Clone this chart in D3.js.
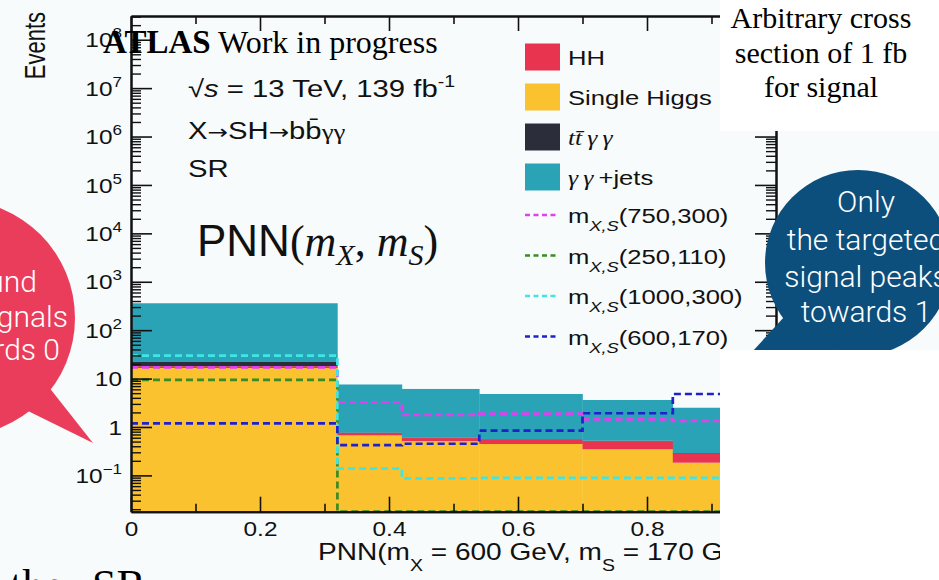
<!DOCTYPE html>
<html>
<head>
<meta charset="utf-8">
<script src="https://cdn.jsdelivr.net/npm/d3@7/dist/d3.min.js"></script>
<style>
  html, body { margin: 0; padding: 0; background: #f7fbfc; }
  svg { display: block; }
</style>
</head>
<body>
<svg id="chart" width="939" height="580"></svg>
<script>
// PNN score distribution in the X -> SH -> bb̄γγ signal region
const binEdges = [0, 0.32, 0.42, 0.54, 0.70, 0.84, 1.0];

// stacked backgrounds, listed bottom to top
const singleHiggs = [16.5, 0.67, 0.51, 0.445, 0.346, 0.183];
const hhYields    = [1.5, 0.08, 0.08, 0.11, 0.165, 0.095];
const ttyyYields  = [4.6, 0.02, 0.015, 0.01, 0.01, 0.01];
const yyJets      = [337, 6.78, 5.5, 4.24, 3.09, 2.21];

// signal hypotheses, normalised to 1 fb
const sig750_300  = [17.1, 3.24, 1.77, 1.88, 1.44, 1.33];
const sig250_110  = [9.36, 0, 0, 0, 0, 0];
const sig1000_300 = [29.7, 0.138, 0.087, 0.089, 0.089, 0.089];
const sig600_170  = [1.19, 0.42, 0.45, 0.84, 1.92, 4.8];

const xTickValues  = [0, 0.2, 0.4, 0.6, 0.8, 1];
const xMinorValues = [0.1, 0.3, 0.5, 0.7, 0.9];
const yDecades     = [-1, 0, 1, 2, 3, 4, 5, 6, 7, 8];
const yLimits      = [Math.pow(10, -1.75), Math.pow(10, 8.49)];

const SANS  = '"Liberation Sans", Arial, Helvetica, sans-serif';
const SERIF = '"Liberation Serif", "Times New Roman", Times, serif';
const LIGHT = 'Roboto, "Liberation Sans", Arial, sans-serif';
const WIDE = 1.22;   // the embedded plot is stretched horizontally on the slide

const svg = d3.select("#chart");
const frame = { left: 131, right: 776, top: 16, bottom: 511.7 };

const x = d3.scaleLinear().domain([0, 1]).range([frame.left, frame.right]);
const y = d3.scaleLog().domain(yLimits).range([frame.bottom, frame.top]);
const yv = v => y(Math.max(v, yLimits[0]));

// text group anchored at (tx, ty) with the plot's horizontal stretch
function plotText(parent, tx, ty, extra, stretch) {
  return parent.append("g")
    .attr("transform", `translate(${tx},${ty}) scale(${stretch || WIDE},1)${extra || ""}`)
    .append("text");
}

svg.append("defs").append("clipPath").attr("id", "plotClip")
  .append("rect")
  .attr("x", frame.left).attr("y", frame.top)
  .attr("width", frame.right - frame.left).attr("height", frame.bottom - frame.top);

// ---- stacked backgrounds ----
const layers = [
  { key: "single", values: singleHiggs, color: "#f9c22e" },
  { key: "hh",     values: hhYields,    color: "#e8344f" },
  { key: "ttyy",   values: ttyyYields,  color: "#2b2e3a" },
  { key: "yyjets", values: yyJets,      color: "#2ba3b6" }
];
const stackRows = [];
binEdges.slice(0, -1).forEach((lo, i) => {
  let base = 0;
  layers.forEach(l => {
    stackRows.push({ lo, hi: binEdges[i + 1], y0: base, y1: base + l.values[i], color: l.color });
    base += l.values[i];
  });
});
const plot = svg.append("g").attr("clip-path", "url(#plotClip)");
plot.selectAll("rect.stack").data(stackRows).join("rect")
  .attr("class", "stack")
  .attr("x", d => x(d.lo))
  .attr("width", d => x(d.hi) - x(d.lo) + 0.3)
  .attr("y", d => yv(d.y1))
  .attr("height", d => Math.max(0, yv(d.y0) - yv(d.y1)))
  .attr("fill", d => d.color);

// ---- signal histograms ----
const signals = [
  { values: sig750_300,  color: "#e040f0", label: "(750,300)" },
  { values: sig250_110,  color: "#3a8c22", label: "(250,110)" },
  { values: sig1000_300, color: "#3fe6e6", label: "(1000,300)" },
  { values: sig600_170,  color: "#2020cc", label: "(600,170)" }
];
const stepLine = d3.line().x(d => x(d.e)).y(d => yv(d.v)).curve(d3.curveStepAfter);
signals.forEach(s => {
  const pts = binEdges.map((e, i) => ({ e, v: s.values[Math.min(i, s.values.length - 1)] }));
  plot.append("path")
    .attr("d", stepLine(pts))
    .attr("fill", "none")
    .attr("stroke", s.color)
    .attr("stroke-width", 2.7)
    .attr("stroke-dasharray", "7,4");
});

// ---- axes ----
function styleAxis(g, width) {
  g.selectAll(".domain").attr("stroke", "#111").attr("stroke-width", 2);
  g.selectAll(".tick line").attr("stroke", "#111").attr("stroke-width", width);
}
const yMinor = [];
for (let e = -2; e <= 8; e++) for (let k = 2; k <= 9; k++) {
  const v = k * Math.pow(10, e);
  if (v > yLimits[0] && v < yLimits[1]) yMinor.push(v);
}
const yMajor = yDecades.map(e => Math.pow(10, e));

// left
svg.append("g").attr("transform", `translate(${frame.left},0)`)
  .call(d3.axisLeft(y).tickValues(yMinor).tickSize(-10).tickSizeOuter(0).tickFormat(""))
  .call(g => styleAxis(g, 1.4));
const yPad = 9;
const yAxisG = svg.append("g").attr("transform", `translate(${frame.left},0)`)
  .call(d3.axisLeft(y).tickValues(yMajor).tickSize(-21).tickSizeOuter(0).tickPadding(yPad).tickFormat(""))
  .call(g => styleAxis(g, 1.6));
yAxisG.selectAll(".tick text").each(function (d) {
  const e = Math.round(Math.log10(d));
  const t = d3.select(this)
    .attr("font-family", SANS).attr("font-size", 20).attr("fill", "#111")
    .attr("dy", "0.36em")
    .attr("transform", `translate(${-yPad * (1 - WIDE)},0) scale(${WIDE},1)`);
  if (e === 0) t.text("1");
  else if (e === 1) t.text("10");
  else {
    t.text("10");
    t.append("tspan").attr("dy", -9).attr("font-size", 14).text(e < 0 ? "\u2212" + (-e) : e);
  }
});

// right
svg.append("g").attr("transform", `translate(${frame.right},0)`)
  .call(d3.axisRight(y).tickValues(yMinor).tickSize(-10).tickSizeOuter(0).tickFormat(""))
  .call(g => styleAxis(g, 1.4));
svg.append("g").attr("transform", `translate(${frame.right},0)`)
  .call(d3.axisRight(y).tickValues(yMajor).tickSize(-21).tickSizeOuter(0).tickFormat(""))
  .call(g => styleAxis(g, 1.6));

// bottom
svg.append("g").attr("transform", `translate(0,${frame.bottom})`)
  .call(d3.axisBottom(x).tickValues(xMinorValues).tickSize(-8).tickSizeOuter(0).tickFormat(""))
  .call(g => styleAxis(g, 1.6));
svg.append("g").attr("transform", `translate(0,${frame.bottom})`)
  .call(d3.axisBottom(x).tickValues(xTickValues).tickSize(-15).tickSizeOuter(0).tickPadding(10)
    .tickFormat(d => (d === 0 || d === 1) ? String(d) : d.toFixed(1)))
  .call(g => styleAxis(g, 1.6))
  .call(g => g.selectAll(".tick text")
    .attr("font-family", SANS).attr("font-size", 20).attr("fill", "#111")
    .attr("transform", `scale(${WIDE},1)`));

// top
svg.append("g").attr("transform", `translate(0,${frame.top})`)
  .call(d3.axisTop(x).tickValues(xMinorValues).tickSize(-8).tickSizeOuter(0).tickFormat(""))
  .call(g => styleAxis(g, 1.6));
svg.append("g").attr("transform", `translate(0,${frame.top})`)
  .call(d3.axisTop(x).tickValues(xTickValues).tickSize(-15).tickSizeOuter(0).tickFormat(""))
  .call(g => styleAxis(g, 1.6));

// axis titles
plotText(svg, 45, 12, " rotate(-90)", 1.38)
  .attr("text-anchor", "end")
  .attr("font-family", SANS).attr("font-size", 22).attr("fill", "#111")
  .text("Events");

const xTitle = plotText(svg, 318, 560)
  .attr("font-family", SANS).attr("font-size", 23).attr("fill", "#111");
xTitle.append("tspan").text("PNN(m");
xTitle.append("tspan").attr("dy", 11).attr("font-size", 16).text("X");
xTitle.append("tspan").attr("dy", -11).text(" = 600 GeV, m");
xTitle.append("tspan").attr("dy", 11).attr("font-size", 16).text("S");
xTitle.append("tspan").attr("dy", -11).text(" = 170 GeV)");

// ---- legend ----
const legendBoxes = [
  { label: "HH", color: "#e8344f" },
  { label: "Single Higgs", color: "#f9c22e" },
  { label: "tt", color: "#2b2e3a" },
  { label: "yy", color: "#2ba3b6" }
];
const legend = svg.append("g");
legendBoxes.forEach((b, i) => {
  const cy = 57 + i * 40;
  legend.append("rect").attr("x", 525).attr("y", cy - 13.5).attr("width", 35).attr("height", 27).attr("fill", b.color);
  const t = plotText(legend, 568, cy + 8)
    .attr("font-family", SANS).attr("font-size", 21).attr("fill", "#111");
  if (b.label === "tt") {
    t.append("tspan").attr("font-family", SERIF).attr("font-style", "italic").text("tt\u0304\u2009\u03b3\u2009\u03b3");
  } else if (b.label === "yy") {
    t.append("tspan").attr("font-family", SERIF).attr("font-style", "italic").text("\u03b3\u2009\u03b3\u2009");
    t.append("tspan").text("+jets");
  } else {
    t.text(b.label);
  }
});
signals.forEach((s, i) => {
  const cy = 215 + i * 40.5;
  legend.append("line").attr("x1", 525).attr("x2", 558).attr("y1", cy).attr("y2", cy)
    .attr("stroke", s.color).attr("stroke-width", 2.4).attr("stroke-dasharray", "5,3.5");
  const t = plotText(legend, 568, cy + 8)
    .attr("font-family", SANS).attr("font-size", 21).attr("fill", "#111");
  t.append("tspan").text("m");
  t.append("tspan").attr("dy", 8).attr("font-size", 15).attr("font-style", "italic").text("X,S");
  t.append("tspan").attr("dy", -8).text(s.label);
});

// ---- header text ----
const l1 = plotText(svg, 188, 97).attr("font-family", SANS).attr("font-size", 24).attr("fill", "#111");
l1.append("tspan").text("\u221a");
l1.append("tspan").attr("font-style", "italic").text("s");
l1.append("tspan").text(" = 13 TeV, 139 fb");
l1.append("tspan").attr("dy", -10).attr("font-size", 16).text("-1");
const l2 = plotText(svg, 188, 139).attr("font-family", SANS).attr("font-size", 24).attr("fill", "#111");
l2.append("tspan").text("X");
l2.append("tspan").attr("font-family", '"DejaVu Sans", sans-serif').attr("font-size", 20).text("\u2192");
l2.append("tspan").text("SH");
l2.append("tspan").attr("font-family", '"DejaVu Sans", sans-serif').attr("font-size", 20).text("\u2192");
l2.append("tspan").text("bb\u0304");
l2.append("tspan").attr("font-family", SERIF).attr("font-size", 22).text("\u03b3\u03b3");
plotText(svg, 188, 177).attr("font-family", SANS).attr("font-size", 24).attr("fill", "#111").text("SR");

const pnn = svg.append("text").attr("x", 197).attr("y", 256).attr("font-size", 44).attr("fill", "#111");
pnn.append("tspan").attr("font-family", SANS).text("PNN");
pnn.append("tspan").attr("font-family", SERIF).text("(");
pnn.append("tspan").attr("font-family", SERIF).attr("font-style", "italic").text("m");
pnn.append("tspan").attr("font-family", SERIF).attr("font-style", "italic").attr("font-size", 30).attr("dy", 9).text("X");
pnn.append("tspan").attr("font-family", SERIF).attr("dy", -9).text(", ");
pnn.append("tspan").attr("font-family", SERIF).attr("font-style", "italic").text("m");
pnn.append("tspan").attr("font-family", SERIF).attr("font-style", "italic").attr("font-size", 30).attr("dy", 9).text("S");
pnn.append("tspan").attr("font-family", SERIF).attr("dy", -9).text(")");

// ATLAS label
const atlas = svg.append("text").attr("x", 103).attr("y", 53).attr("font-family", SERIF).attr("fill", "#000");
atlas.append("tspan").attr("font-weight", "bold").attr("font-size", 33).text("ATLAS");
atlas.append("tspan").attr("font-size", 32).text(" Work in progress");

// ---- left callout ----
const red = "#ea3d5b";
svg.append("circle").attr("cx", -43).attr("cy", 318).attr("r", 118).attr("fill", red);
svg.append("path").attr("d", "M48,386 L93,443 L26,410 Z").attr("fill", red);
const leftNote = svg.append("g").attr("font-family", LIGHT).attr("font-weight", 300)
  .attr("font-size", 30).attr("fill", "#fff").attr("text-anchor", "end");
[["Background", 37, 292], ["and other signals", 68, 327], ["peak towards 0", 60, 360]].forEach(([s, tx, ty]) =>
  leftNote.append("text").attr("x", tx).attr("y", ty).text(s));

// ---- right side: note box and callout ----
svg.append("rect").attr("x", 720).attr("y", 0).attr("width", 219).attr("height", 131).attr("fill", "#ffffff");
const note = svg.append("g").attr("font-family", SERIF).attr("font-size", 30).attr("fill", "#000").attr("text-anchor", "middle");
[["Arbitrary cross", 28], ["section of 1 fb", 63], ["for signal", 97]].forEach(([s, ty]) =>
  note.append("text").attr("x", 821).attr("y", ty).text(s));

const blue = "#0d4f7c";
svg.append("circle").attr("cx", 858).attr("cy", 263).attr("r", 93).attr("fill", blue);
svg.append("path").attr("d", "M785,316 L752,352 L845,352 Z").attr("fill", blue);
const rightNote = svg.append("g").attr("font-family", LIGHT).attr("font-weight", 300)
  .attr("font-size", 30).attr("fill", "#fff").attr("text-anchor", "middle");
[["Only", 212], ["the targeted", 250], ["signal peaks", 287], ["towards 1", 322]].forEach(([s, ty]) =>
  rightNote.append("text").attr("x", 866).attr("y", ty).text(s));

svg.append("rect").attr("x", 720).attr("y", 350).attr("width", 219).attr("height", 230).attr("fill", "#ffffff");

// slide caption running off the bottom edge
const cap = svg.append("text").attr("y", 600).attr("font-family", SERIF).attr("font-size", 44).attr("fill", "#000");
cap.append("tspan").attr("x", 10).text("the");
cap.append("tspan").attr("x", 92).text("SR");
</script>
</body>
</html>
